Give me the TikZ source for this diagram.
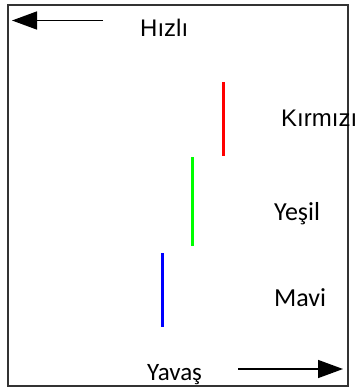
\documentclass[tikz,border=0pt]{standalone}
\usepackage{fontspec}
\setmainfont{Carlito}
\newfontfamily\arialfont{Liberation Sans}
\usetikzlibrary{arrows.meta}
\begin{document}
\begin{tikzpicture}[x=1pt,y=-1pt,
		band/.style={line width=3pt},
		hiz/.style={line width=1.5pt,-{Triangle[length=25pt,width=18pt]}},
		lbl/.style={anchor=base west,inner sep=0pt,font=\fontsize{26}{30}\selectfont},
		albl/.style={lbl,font=\arialfont\fontsize{24}{28}\selectfont}]
				\useasboundingbox(0,0)rectangle(359,388);
				\draw[line width=2pt,black!80](7.5,4.5)rectangle(347.5,386);
				\node[albl](hizli)at(140,36){Hızlı};
				\node[albl](kirmizi)at(281,126){Kırmızı};
				\node[lbl](yesil)at(274,220){Yeşil};
				\node[lbl](mavi)at(274,306){Mavi};
				\node[lbl,font=\fontsize{25}{29}\selectfont](yavas)at(147,380){Yavaş};
				\coordinate(h1)at(103,20.5);
				\coordinate(h2)at(12,20.5);
				\coordinate(y1)at(238,369);
				\coordinate(y2)at(343,369);
				\draw[hiz](h1)--(h2);
				\draw[hiz](y1)--(y2);
				\coordinate(r1)at(223,82);
				\coordinate(r2)at(223,156);
				\coordinate(g1)at(192.5,157);
				\coordinate(g2)at(192.5,246);
				\coordinate(b1)at(162.5,253);
				\coordinate(b2)at(162.5,327);
				\draw[band,red](r1)--(r2);
				\draw[band,green](g1)--(g2);
				\draw[band,blue](b1)--(b2);
			\end{tikzpicture}
\end{document}
